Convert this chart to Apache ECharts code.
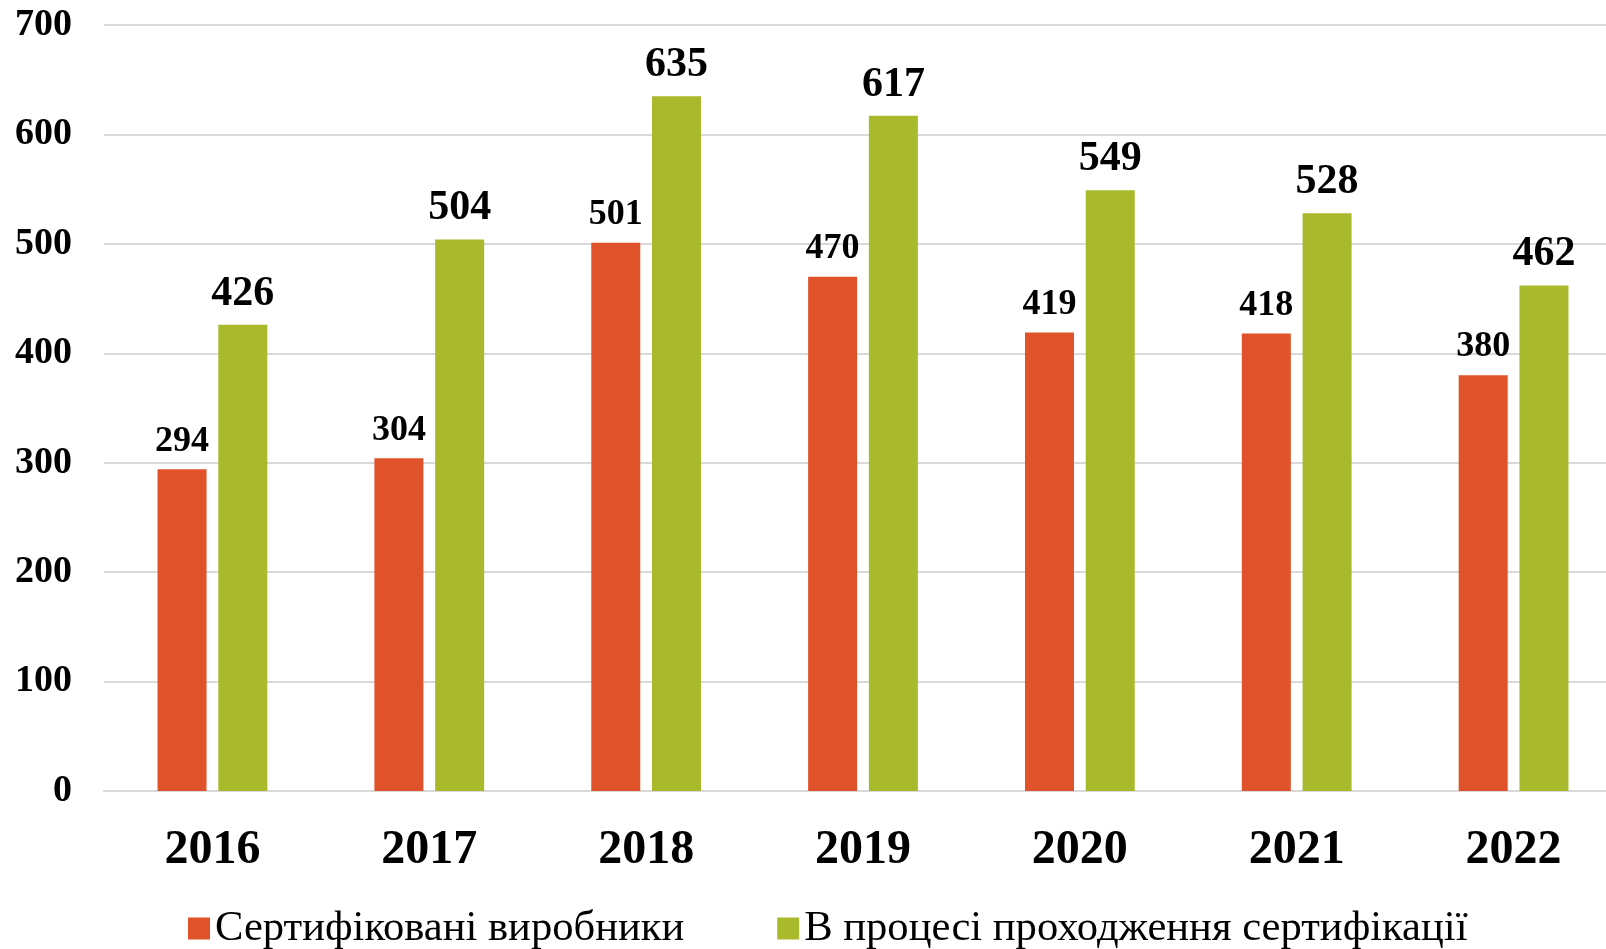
<!DOCTYPE html>
<html>
<head>
<meta charset="utf-8">
<script src="https://cdn.jsdelivr.net/npm/echarts@6/dist/echarts.min.js"></script>
<style>html,body{margin:0;padding:0;background:#fff}#c{width:1606px;height:949px}</style>
</head>
<body>
<div id="c"></div>
<script>
const categories = ['2016','2017','2018','2019','2020','2021','2022'];
const certified = [294, 304, 501, 470, 419, 418, 380];
const inProcess = [426, 504, 635, 617, 549, 528, 462];
const seriesNames = ['Сертифіковані виробники', 'В процесі проходження сертифікації'];
const yTicks = {min: 0, max: 700, interval: 100};

const FONT = "'Liberation Serif', 'Times New Roman', serif";
const chart = echarts.init(document.getElementById('c'));
chart.setOption({
  backgroundColor: '#fff',
  animation: false,
  grid: {left: 104, right: -16, top: 25, bottom: 158, containLabel: false, outerBoundsMode: 'none'},
  legend: {
    left: 183, top: 902,
    itemWidth: 22, itemHeight: 22, itemGap: 93,
    icon: 'rect',
    textStyle: {fontFamily: FONT, fontSize: 42.6, color: '#000', padding: [0,0,0,0]},
    data: seriesNames
  },
  xAxis: {
    type: 'category', data: categories,
    axisLine: {lineStyle: {color: '#d9d9d9', width: 2}},
    axisTick: {show: false},
    axisLabel: {fontFamily: FONT, fontSize: 48, fontWeight: 'bold', color: '#000', margin: 36}
  },
  yAxis: {
    type: 'value', min: yTicks.min, max: yTicks.max, interval: yTicks.interval,
    axisLine: {show: false}, axisTick: {show: false},
    splitLine: {lineStyle: {color: '#d9d9d9', width: 2}},
    axisLabel: {fontFamily: FONT, fontSize: 38, fontWeight: 'bold', color: '#000', margin: 32}
  },
  series: [
    {
      name: seriesNames[0], type: 'bar', data: certified,
      barWidth: 49, barGap: '24%',
      itemStyle: {color: '#E0532A'},
      label: {show: true, position: 'top', distance: 10, fontFamily: FONT, fontSize: 36, fontWeight: 'bold', color: '#000'}
    },
    {
      name: seriesNames[1], type: 'bar', data: inProcess,
      barWidth: 49,
      itemStyle: {color: '#A8B92B'},
      label: {show: true, position: 'top', distance: 10, fontFamily: FONT, fontSize: 42, fontWeight: 'bold', color: '#000'}
    }
  ]
});
</script>
</body>
</html>
